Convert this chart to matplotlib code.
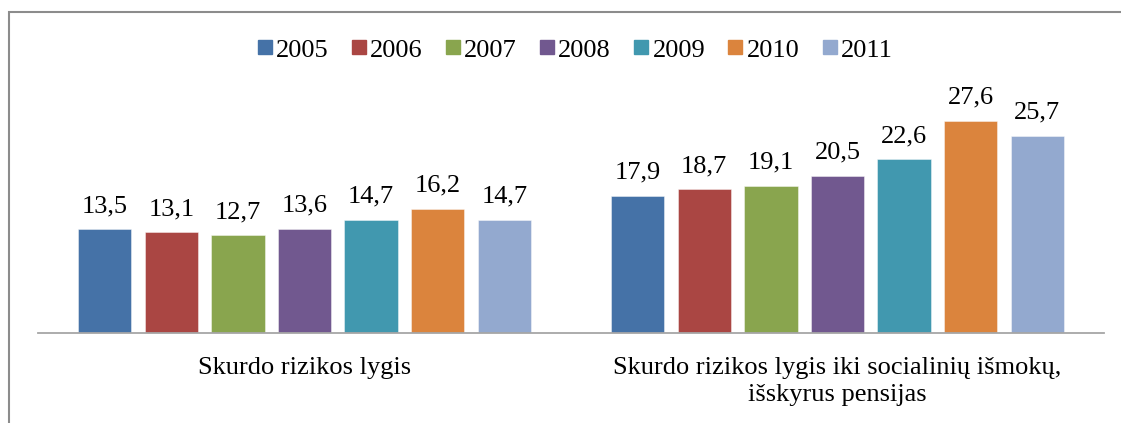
import matplotlib.pyplot as plt
from matplotlib.lines import Line2D
from matplotlib.patches import Rectangle
import numpy as np

# data
categories = ["Skurdo rizikos lygis",
              "Skurdo rizikos lygis iki socialinių išmokų,\nišskyrus pensijas"]
years = ["2005", "2006", "2007", "2008", "2009", "2010", "2011"]
values_2005 = [13.5, 17.9]
values_2006 = [13.1, 18.7]
values_2007 = [12.7, 19.1]
values_2008 = [13.6, 20.5]
values_2009 = [14.7, 22.6]
values_2010 = [16.2, 27.6]
values_2011 = [14.7, 25.7]
series = [values_2005, values_2006, values_2007, values_2008,
          values_2009, values_2010, values_2011]

colors = ['#4572A7', '#AA4643', '#89A54E', '#71588F',
          '#4198AF', '#DB843D', '#93A9CF']

plt.rcParams['font.family'] = ['Liberation Serif', 'DejaVu Serif']

fig = plt.figure(figsize=(11.21, 4.23), dpi=100)
ax = fig.add_axes([38 / 1121, 90 / 423, 1066 / 1121, 230.4 / 423])

x = np.arange(len(categories))
step = 0.125
width = 0.1
for i, (vals, col) in enumerate(zip(series, colors)):
    xs = x + (i - 3) * step
    bars = ax.bar(xs, vals, width=width, color=col,
                  edgecolor=(1, 1, 1, 0.5), linewidth=0.6, zorder=2)
    for b, v in zip(bars, vals):
        ax.annotate(f"{v:.1f}".replace('.', ','),
                    (b.get_x() + b.get_width() / 2, v),
                    xytext=(0, 12.5), textcoords='offset points',
                    ha='center', va='baseline', fontsize=19)

ax.set_xlim(-0.5, 1.5)
ax.set_ylim(0, 30)
ax.set_xticks(x)
ax.set_xticklabels(categories, fontsize=19, linespacing=1.3)
ax.tick_params(axis='x', length=0, pad=17)
ax.set_yticks([])
for s in ['top', 'right', 'left']:
    ax.spines[s].set_visible(False)
ax.spines['bottom'].set_color('#a6a6a6')
ax.spines['bottom'].set_linewidth(1.3)

# legend along the top
handles = [Line2D([0], [0], marker='s', linestyle='none', markersize=9.4,
                  markerfacecolor=c, markeredgecolor=c, label=y)
           for y, c in zip(years, colors)]
fig.legend(handles=handles, loc='center', bbox_to_anchor=(0.513, 0.882),
           ncol=7, frameon=False, fontsize=19, handlelength=0.55,
           handletextpad=0.15, columnspacing=0.87, borderaxespad=0)

# outer chart frame (cut off on the right and bottom)
fig.patches.append(Rectangle((8.5 / 1121, -0.1), 1.2, 0.1 + (423 - 12.5) / 423,
                             transform=fig.transFigure, fill=False,
                             edgecolor='#8c8c8c', linewidth=1.5))

fig.savefig('out.png', dpi=100)
